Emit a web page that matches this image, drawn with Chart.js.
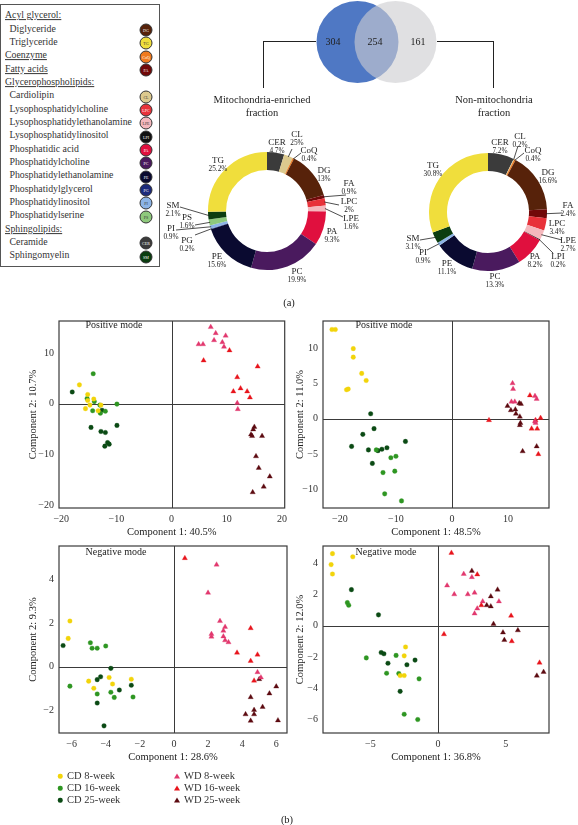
<!DOCTYPE html>
<html><head><meta charset="utf-8">
<script src="https://cdn.jsdelivr.net/npm/chart.js@4.4.1/dist/chart.umd.min.js"></script>
<style>
html,body{margin:0;padding:0}
body{width:578px;height:825px;position:relative;background:#fff;font-family:"Liberation Serif","Times New Roman",serif;color:#222;overflow:hidden}
canvas{position:absolute}
.t{position:absolute;white-space:nowrap;transform:translate(-50%,-50%);line-height:1}
.tl{position:absolute;white-space:nowrap;transform:translateY(-50%);line-height:1}
.ln{position:absolute;background:#222}
#legendBox{position:absolute;left:0;top:4px;width:160px;height:263px;border:1px solid #555;box-sizing:border-box}
.dot{position:absolute;width:13px;height:13px;border-radius:50%;border:1px solid #333;box-sizing:border-box;font-size:4px;color:#fff;text-align:center;line-height:11px;transform:translate(-50%,-50%)}
.mc{position:absolute;width:4.5px;height:4.5px;border-radius:50%;transform:translate(-50%,-50%)}
.mt{position:absolute;width:0;height:0;border-left:3px solid transparent;border-right:3px solid transparent;transform:translate(-50%,-50%)}
</style></head><body>
<div id="legendBox"></div>
<canvas id="venn" width="140" height="84" style="left:306px;top:0px"></canvas>
<canvas id="donut1" width="200" height="165" style="left:160px;top:125px"></canvas>
<canvas id="donut2" width="183" height="165" style="left:395px;top:125px"></canvas>
<canvas id="p1" width="272" height="232" style="left:20px;top:310px"></canvas>
<canvas id="p2" width="267" height="232" style="left:287px;top:310px"></canvas>
<canvas id="p3" width="272" height="232" style="left:20px;top:535px"></canvas>
<canvas id="p4" width="267" height="232" style="left:287px;top:535px"></canvas>
<script>
// ---------- DATA ----------
const lipidClasses = ['CER','CL','CoQ','DG','FA','LPC','LPE','LPI','PA','PC','PE','PG','PI','PS','SM','TG'];
const lipidColors  = ['#3b3b3b','#dcc98e','#f07a1e','#57220a','#720909','#e8323a','#f5b8bd','#111111','#e0103e','#4a1a5e','#0a0a30','#1c2a7a','#8cb4e6','#8ec97c','#0b3d10','#f0de3c'];
const mitoValues    = [4.7, 2.5, 0.4, 13, 0.9, 2, 1.6, 0, 9.3, 19.9, 15.6, 0.2, 0.9, 1.6, 2.1, 25.2];
const mitoPctText   = ['4.7%','25%','0.4%','13%','0.9%','2%','1.6%',null,'9.3%','19.9%','15.6%','0.2%','0.9%','1.6%','2.1%','25.2%'];
const nonMitoValues = [7.2, 0.2, 0.4, 16.6, 2.4, 3.4, 2.7, 0.2, 8.2, 13.3, 11.1, 0, 0.9, 0, 3.1, 30.8];
const nonMitoPctText= ['7.2%','0.2%','0.4%','16.6%','2.4%','3.4%','2.7%','0.2%','8.2%','13.3%','11.1%',null,'0.9%',null,'3.1%','30.8%'];
const vennCounts = [304, 254, 161];

const legendRows = [
  ['Acyl glycerol:','h',null],['Diglyceride','i','DG'],['Triglyceride','i','TG'],
  ['Coenzyme','h','CoQ'],['Fatty acids','h','FA'],['Glycerophospholipids:','h',null],
  ['Cardiolipin','i','CL'],['Lysophosphatidylcholine','i','LPC'],['Lysophosphatidylethanolamine','i','LPE'],
  ['Lysophosphatidylinositol','i','LPI'],['Phosphatidic acid','i','PA'],['Phosphatidylcholine','i','PC'],
  ['Phosphatidylethanolamine','i','PE'],['Phosphatidylglycerol','i','PG'],['Phosphatidylinositol','i','PI'],
  ['Phosphatidylserine','i','PS'],['Sphingolipids:','h',null],['Ceramide','i','CER'],['Sphingomyelin','i','SM']
];

const groupNames  = ['CD 8-week','CD 16-week','CD 25-week','WD 8-week','WD 16-week','WD 25-week'];
const groupColors = ['#f2d40a','#2e9622','#0b4a14','#e2386e','#e8141c','#5c0a10'];

// Panel 1: positive mode, Component 1: 40.5% / Component 2: 10.7%
const p1_cd8  = [[-16.7,3.7],[-15.2,1.8],[-14.1,0.9],[-15.2,0.6],[-14.8,-0.3],[-15.6,-1.0],[-13.3,-1.4],[-12.8,-0.3]];
const p1_cd16 = [[-14.2,5.9],[-15.3,1.0],[-14.0,0.4],[-13.0,-0.3],[-14.3,-1.4],[-12.9,-1.9],[-12.0,-1.5],[-9.9,-0.1]];
const p1_cd25 = [[-18.0,2.3],[-12.6,-1.3],[-14.6,-4.7],[-12.8,-5.5],[-12.0,-5.7],[-9.9,-4.3],[-11.6,-7.7],[-11.3,-8.0],[-12.1,-8.4]];
const p1_wd8  = [[7.1,15.1],[8.0,13.9],[9.8,13.4],[7.7,12.5],[9.2,12.1],[9.5,11.2],[4.9,11.7],[5.7,11.7],[11.9,0.1],[12.0,-1.1]];
const p1_wd16 = [[10.5,10.5],[5.8,8.5],[15.6,7.3],[11.9,5.2],[11.2,2.4],[12.5,3.0],[13.7,2.4],[14.2,1.2]];
const p1_wd25 = [[15.0,-4.6],[14.8,-5.1],[14.4,-6.1],[14.6,-6.4],[16.4,-6.4],[15.3,-10.4],[15.8,-12.7],[17.8,-14.4],[16.7,-16.4],[14.7,-17.5]];
// Panel 2: positive mode, Component 1: 48.5% / Component 2: 11.0%
const p2_cd8  = [[-21.4,12.6],[-20.8,12.6],[-17.6,9.9],[-17.6,8.7],[-16.1,6.4],[-15.3,5.4],[-18.8,4.1],[-18.5,4.2]];
const p2_cd16 = [[-13.5,-4.4],[-10.9,-5.5],[-10.0,-5.3],[-12.3,-7.6],[-10.2,-7.4],[-12.0,-10.6],[-9.0,-11.6]];
const p2_cd25 = [[-14.5,0.7],[-13.9,-1.4],[-15.9,-2.2],[-17.9,-3.9],[-14.9,-4.4],[-14.2,-6.3],[-13.2,-4.5],[-12.5,-4.3],[-11.6,-4.1],[-8.3,-3.2]];
const p2_wd8  = [[10.8,5.0],[10.9,4.2],[10.6,2.4],[11.2,2.4],[14.8,3.2],[15.1,2.8],[14.8,-0.4],[14.9,-0.6]];
const p2_wd16 = [[6.6,-0.2],[13.9,3.3],[15.8,0.1],[14.2,-1.4],[15.2,-1.4],[15.4,-5.0],[14.9,-0.2]];
const p2_wd25 = [[9.9,1.8],[10.5,1.2],[11.3,1.3],[11.4,0.7],[12.0,2.2],[12.3,2.1],[12.1,0.3],[12.1,-0.9],[12.2,-0.6],[12.6,-4.6],[15.1,-3.9]];
// Panel 3: negative mode, Component 1: 28.6% / Component 2: 9.3%
const p3_cd8  = [[-6.1,2.1],[-6.2,1.3],[-5.0,-0.67],[-4.7,-1.0],[-3.8,-0.5],[-3.6,-0.8],[-2.5,-0.58]];
const p3_cd16 = [[-4.9,1.1],[-4.8,0.85],[-4.5,0.85],[-4.0,0.95],[-6.1,-0.9],[-4.5,-1.26],[-3.7,-1.18],[-3.5,-1.42],[-2.4,-1.4]];
const p3_cd25 = [[-6.5,0.97],[-3.7,-0.08],[-4.3,-0.47],[-4.5,-0.6],[-3.2,-1.08],[-2.5,-0.86],[-4.5,-1.68],[-4.1,-2.73]];
const p3_wd8  = [[2.5,4.7],[2.0,3.4],[2.7,2.1],[3.0,1.83],[2.9,1.65],[2.2,1.5],[2.2,1.38],[2.9,1.39],[3.0,1.21],[3.2,1.12],[4.9,-0.26],[5.1,-0.5]];
const p3_wd16 = [[0.64,5.0],[4.5,1.77],[4.5,0.26],[4.9,0.55],[4.7,-0.65],[3.7,0.64]];
const p3_wd25 = [[5.0,-0.58],[6.0,-0.92],[5.6,-1.24],[4.5,-1.41],[5.2,-1.86],[4.7,-2.0],[4.2,-2.2],[4.7,-2.2],[4.5,-2.5],[6.1,-2.48]];
// Panel 4: negative mode, Component 1: 36.8% / Component 2: 12.0%
const p4_cd8  = [[-7.8,4.6],[-7.9,3.9],[-7.8,3.3],[-6.3,4.4],[-2.4,-1.36],[-2.5,-1.93],[-2.8,-3.19],[-2.5,-3.19]];
const p4_cd16 = [[-6.7,1.47],[-6.6,1.3],[-5.3,-2.06],[-3.1,-1.9],[-3.8,-3.04],[-2.9,-3.06],[-1.4,-3.4],[-2.5,-5.66],[-1.5,-6.0]];
const p4_cd25 = [[-6.4,2.3],[-4.4,0.69],[-4.2,-1.72],[-4.0,-1.8],[-3.7,-2.4],[-2.3,-2.5],[-1.7,-2.2],[-2.8,-4.2]];
const p4_wd8  = [[0.67,2.56],[1.2,2.0],[1.9,3.3],[2.5,3.1],[2.2,2.0],[2.7,2.1],[2.7,0.77],[2.9,1.09],[3.3,1.55],[4.5,1.55]];
const p4_wd16 = [[0.99,4.65],[0.44,-0.55],[2.9,3.27],[3.2,1.3],[5.4,0.63],[5.45,-1.0],[7.5,-2.37]];
const p4_wd25 = [[2.5,3.5],[3.9,1.87],[4.4,2.3],[3.6,1.3],[3.9,1.23],[4.1,0.11],[4.8,-0.44],[4.9,-0.92],[5.9,-0.3],[7.3,-3.2],[7.8,-2.96]];

const p1_xTicks = [-20,-10,0,10,20], p1_yTicks = [-20,-10,0,10];
const p2_xTicks = [-20,-10,0,10],    p2_yTicks = [-10,-5,0,5,10];
const p3_xTicks = [-6,-4,-2,0,2,4,6], p3_yTicks = [-2,0,2,4];
const p4_xTicks = [-5,0,5],          p4_yTicks = [-6,-4,-2,0,2,4];

// ---------- HELPERS ----------
const SERIF = '"Liberation Serif","Times New Roman",serif';
Chart.defaults.font.family = SERIF;
Chart.defaults.color = '#222';

function addText(txt, x, y, size, cls, extra) {
  const d = document.createElement('div');
  d.className = cls || 't';
  d.textContent = txt;
  d.style.left = x + 'px'; d.style.top = y + 'px'; d.style.fontSize = size + 'px';
  if (extra) Object.assign(d.style, extra);
  document.body.appendChild(d);
  return d;
}
function addLine(x, y, w, h) {
  const d = document.createElement('div');
  d.className = 'ln';
  Object.assign(d.style, {left: x + 'px', top: y + 'px', width: w + 'px', height: h + 'px'});
  document.body.appendChild(d);
}

// ---------- LIPID LEGEND BOX ----------
legendRows.forEach((r, i) => {
  const y = 15.3 + i * 13.33;
  addText(r[0], r[1] === 'h' ? 5 : 9.5, y, 9.8, 'tl', r[1] === 'h' ? {textDecoration: 'underline', color: '#333'} : {color: '#333'});
  if (r[2]) {
    const k = lipidClasses.indexOf(r[2]);
    const d = document.createElement('div');
    d.className = 'dot';
    d.textContent = r[2];
    d.style.left = '146px'; d.style.top = (y + 1.5) + 'px';
    d.style.background = lipidColors[k];
    if (['TG','CL','LPE','PI','PS'].includes(r[2])) d.style.color = '#333';
    document.body.appendChild(d);
  }
});

// ---------- VENN ----------
new Chart(document.getElementById('venn'), {
  type: 'bubble',
  data: { datasets: [
    { data: [{x: 0, y: 0}], radius: 41, backgroundColor: '#4f78c4', borderWidth: 0, clip: false, order: 2 },
    { data: [{x: 1, y: 0}], radius: 41, backgroundColor: 'rgba(205,205,209,0.62)', borderWidth: 0, clip: false, order: 1 }
  ]},
  options: {
    responsive: false, animation: false, devicePixelRatio: 1,
    layout: { padding: 0, autoPadding: false },
    plugins: { legend: { display: false }, tooltip: { enabled: false } },
    scales: {
      x: { display: false, min: -1.355, max: 2.329 },
      y: { display: false, min: -1, max: 1 }
    }
  }
});
addText(String(vennCounts[0]), 333, 42, 10);
addText(String(vennCounts[1]), 375, 42, 10);
addText(String(vennCounts[2]), 418, 42, 10);
addLine(263, 41, 53, 1); addLine(263, 41, 1, 47);
addLine(437, 41, 56, 1); addLine(493, 41, 1, 47);
addText('Mitochondria-enriched', 262, 100, 10.5);
addText('fraction', 262, 113, 10.5);
addText('Non-mitochondria', 494, 100, 10.5);
addText('fraction', 494, 113, 10.5);

// ---------- DONUTS ----------
const donutLabelPlugin = {
  id: 'donutLabels',
  afterDraw(chart, args, opts) {
    const ctx = chart.ctx;
    const meta = chart.getDatasetMeta(0);
    ctx.save();
    ctx.fillStyle = '#222'; ctx.strokeStyle = '#222'; ctx.lineWidth = 0.8;
    ctx.textAlign = 'center'; ctx.textBaseline = 'middle';
    meta.data.forEach((arc, i) => {
      const pct = opts.pct[i];
      const lay = opts.layout[lipidClasses[i]];
      if (!pct || !lay) return;
      const cx = arc.x, cy = arc.y;
      ctx.font = '9px ' + SERIF;
      ctx.fillText(lipidClasses[i], cx + lay[0], cy + lay[1]);
      ctx.font = '7.3px ' + SERIF;
      ctx.fillText(pct, cx + lay[0], cy + lay[1] + 8);
      if (lay.length > 2) {
        const mid = (arc.startAngle + arc.endAngle) / 2;
        const r = arc.outerRadius - 1;
        ctx.beginPath();
        ctx.moveTo(cx + Math.cos(mid) * r, cy + Math.sin(mid) * r);
        ctx.lineTo(cx + lay[2], cy + lay[3]);
        ctx.stroke();
      }
    });
    ctx.restore();
  }
};
const mitoLayout = {
  CER:[10,-68], CL:[30,-76,25,-62], CoQ:[42,-60,34,-58], DG:[57,-40], FA:[82,-27,79,-16],
  LPC:[82,-9,72,-6], LPE:[84,8,76,6], PA:[65,21], PC:[30,61], PE:[-50,46],
  PG:[-80,30,-72,24], PI:[-96,18,-91,19], PS:[-80,7,-72,14], SM:[-94,-5,-87,-4], TG:[-49,-50]
};
const nonMitoLayout = {
  CER:[12,-69], CL:[32,-75,30,-66], CoQ:[45,-61,36,-59], DG:[60,-39], FA:[80,-6,74,1],
  LPC:[69,12], LPE:[80,29,74,28], LPI:[70,45,65,41], PA:[47,45], PC:[7,65], PE:[-41,52],
  PI:[-65,41,-61,38], SM:[-75,27,-68,28], TG:[-55,-46]
};
function makeDonut(id, values, pct, layout, pad) {
  new Chart(document.getElementById(id), {
    type: 'doughnut',
    data: { labels: lipidClasses, datasets: [{ data: values, backgroundColor: lipidColors, borderWidth: 0 }] },
    options: {
      responsive: false, animation: false, devicePixelRatio: 1,
      cutout: '69.5%',
      layout: { padding: pad, autoPadding: false },
      plugins: { legend: { display: false }, tooltip: { enabled: false }, donutLabels: { pct, layout } }
    },
    plugins: [donutLabelPlugin]
  });
}
makeDonut('donut1', mitoValues, mitoPctText, mitoLayout, {left: 48, right: 34, top: 27, bottom: 20});
makeDonut('donut2', nonMitoValues, nonMitoPctText, nonMitoLayout, {left: 34, right: 31, top: 28, bottom: 19});
addText('(a)', 289, 303, 10.5);

// ---------- PCA SCATTERS ----------
const framePlugin = {
  id: 'frame',
  beforeDatasetsDraw(chart) {
    const {ctx, chartArea: a, scales: {x, y}} = chart;
    ctx.save();
    ctx.strokeStyle = '#3a3a3a'; ctx.lineWidth = 1.2;
    ctx.strokeRect(a.left, a.top, a.right - a.left, a.bottom - a.top);
    ctx.lineWidth = 1;
    const x0 = Math.round(x.getPixelForValue(0)) + 0.5;
    const y0 = Math.round(y.getPixelForValue(0)) + 0.5;
    ctx.beginPath();
    ctx.moveTo(x0, a.top); ctx.lineTo(x0, a.bottom);
    ctx.moveTo(a.left, y0); ctx.lineTo(a.right, y0);
    ctx.stroke();
    ctx.restore();
  }
};
const fmt = v => (v < 0 ? '\u2212' + Math.abs(v) : String(v));
function makePCA(id, sets, c) {
  new Chart(document.getElementById(id), {
    type: 'scatter',
    data: { datasets: sets.map((d, i) => ({
      label: groupNames[i],
      data: d.map(p => ({x: p[0], y: p[1]})),
      pointStyle: i < 3 ? 'circle' : 'triangle',
      pointRadius: i < 3 ? 2.3 : 3,
      backgroundColor: groupColors[i], borderColor: groupColors[i], borderWidth: 0.3
    })) },
    options: {
      responsive: false, animation: false, devicePixelRatio: 1,
      layout: { padding: { top: 8, right: 5, bottom: 0, left: 0 }, autoPadding: false },
      plugins: { legend: { display: false }, tooltip: { enabled: false } },
      scales: {
        x: {
          type: 'linear', min: c.xr[0], max: c.xr[1],
          afterBuildTicks: s => { s.ticks = c.xt.map(v => ({value: v})); },
          afterFit: s => { s.height = 34; },
          grid: { display: false, drawTicks: false }, border: { display: false },
          ticks: { padding: 5, font: { size: 10 }, color: '#333', callback: fmt, maxRotation: 0 },
          title: { display: true, text: c.xTitle, font: { size: 10.5 }, color: '#222', padding: { top: 0, bottom: 3 } }
        },
        y: {
          type: 'linear', min: c.yr[0], max: c.yr[1],
          afterBuildTicks: s => { s.ticks = c.yt.map(v => ({value: v})); },
          afterFit: s => { s.width = c.yw; },
          grid: { display: false, drawTicks: false }, border: { display: false },
          ticks: { padding: 5, font: { size: 10 }, color: '#333', callback: fmt },
          title: { display: true, text: c.yTitle, font: { size: 10.5 }, color: '#222', padding: { top: c.yTitlePad, bottom: 0 } }
        }
      }
    },
    plugins: [framePlugin]
  });
}
makePCA('p1', [p1_cd8, p1_cd16, p1_cd25, p1_wd8, p1_wd16, p1_wd25],
  {xr: [-20.4, 20.5], yr: [-20.6, 16.3], xt: p1_xTicks, yt: p1_yTicks, yw: 39, yTitlePad: 7,
   xTitle: 'Component 1: 40.5%', yTitle: 'Component 2: 10.7%'});
makePCA('p2', [p2_cd8, p2_cd16, p2_cd25, p2_wd8, p2_wd16, p2_wd25],
  {xr: [-23.0, 17.3], yr: [-12.6, 13.8], xt: p2_xTicks, yt: p2_yTicks, yw: 36, yTitlePad: 7,
   xTitle: 'Component 1: 48.5%', yTitle: 'Component 2: 11.0%'});
makePCA('p3', [p3_cd8, p3_cd16, p3_cd25, p3_wd8, p3_wd16, p3_wd25],
  {xr: [-6.74, 6.63], yr: [-3.06, 5.56], xt: p3_xTicks, yt: p3_yTicks, yw: 39, yTitlePad: 7,
   xTitle: 'Component 1: 28.6%', yTitle: 'Component 2: 9.3%'});
makePCA('p4', [p4_cd8, p4_cd16, p4_cd25, p4_wd8, p4_wd16, p4_wd25],
  {xr: [-8.5, 8.2], yr: [-6.86, 5.09], xt: p4_xTicks, yt: p4_yTicks, yw: 36, yTitlePad: 7,
   xTitle: 'Component 1: 36.8%', yTitle: 'Component 2: 12.0%'});

addText('Positive mode', 114, 325, 10);
addText('Positive mode', 384, 325, 10);
addText('Negative mode', 116, 552, 10);
addText('Negative mode', 386, 552, 10);

// ---------- GROUP LEGEND ----------
groupNames.forEach((n, i) => {
  const col = i < 3 ? 0 : 1;
  const row = i % 3;
  const y = 776 + row * 12;
  const mx = col ? 177 : 60;
  const m = document.createElement('div');
  if (i < 3) { m.className = 'mc'; m.style.background = groupColors[i]; }
  else { m.className = 'mt'; m.style.borderBottom = '5px solid ' + groupColors[i]; }
  m.style.left = mx + 'px'; m.style.top = y + 'px';
  document.body.appendChild(m);
  addText(n, mx + 7, y, 10.5, 'tl', {color: '#333'});
});
addText('(b)', 287, 820, 10.5);
</script>
</body></html>
